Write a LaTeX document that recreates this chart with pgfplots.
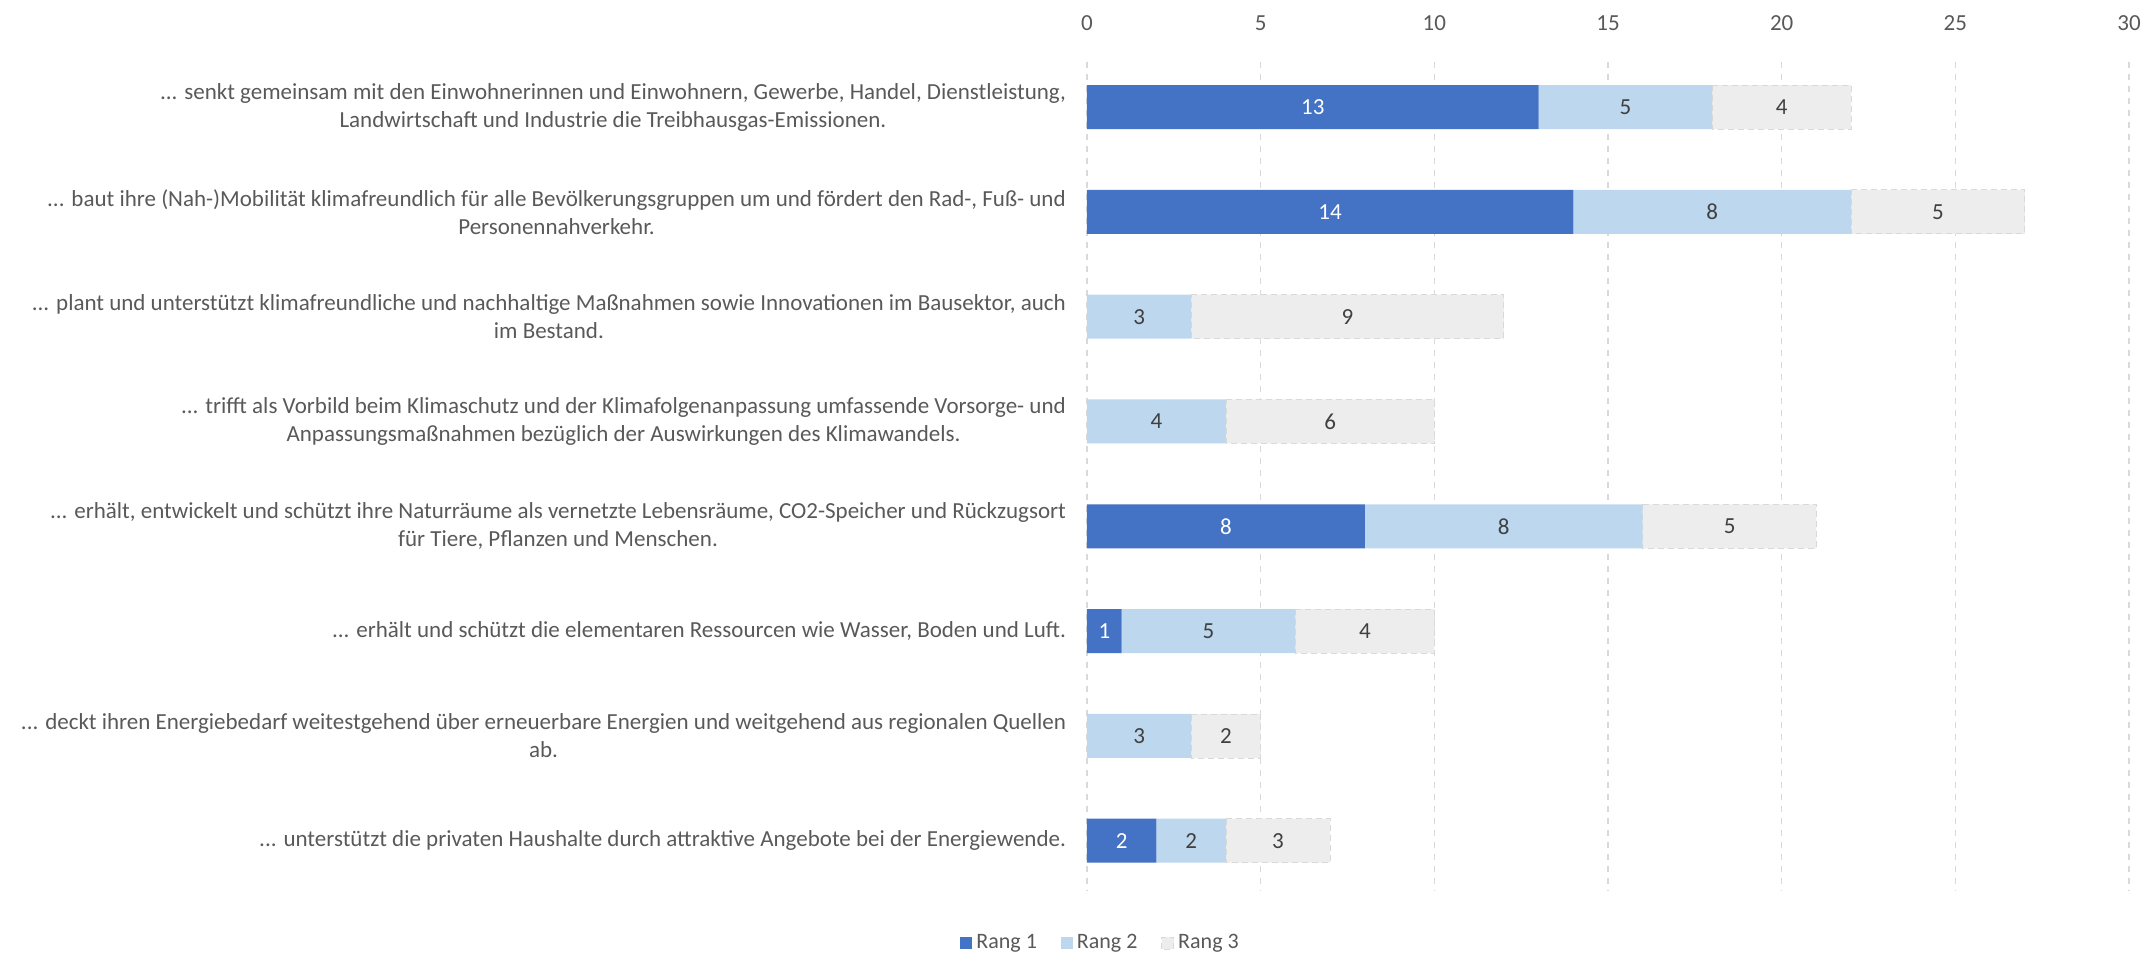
\documentclass[border=0pt]{standalone}
\usepackage{pgfplots}
\usepackage{pgfplotstable}
\pgfplotsset{compat=1.18}
\usepackage{fontspec}
\setmainfont{Carlito}

\definecolor{rang1}{HTML}{4472C4}
\definecolor{rang2}{HTML}{BDD7EE}
\definecolor{rang3}{HTML}{EDEDED}
\definecolor{txt}{HTML}{595959}
\definecolor{val}{HTML}{404040}
\definecolor{gridc}{HTML}{D9D9D9}
\newcommand{\dd}{.\kern0pt.\kern0pt.}

\pgfplotstableread{
y r1 r2 r3
0 13 5 4
1 14 8 5
2 0 3 9
3 0 4 6
4 8 8 5
5 1 5 4
6 0 3 2
7 2 2 3
}\ranks

\pgfplotsset{common/.style={
  width=521pt, height=414.5pt, scale only axis,
  xmin=0, xmax=30, ymin=-0.43, ymax=7.48, y dir=reverse,
  /pgf/number format/assume math mode=true}}

\begin{document}
\begin{tikzpicture}
\begin{axis}[name=ax, common,
  xbar stacked, bar width=0.42,
  xtick={0,5,10,15,20,25,30}, xticklabel pos=top,
  ytick={0,1,2,3,4,5,6,7},
  yticklabels={
    {\dd{} senkt gemeinsam mit den Einwohnerinnen und Einwohnern, Gewerbe, Handel, Dienstleistung,\\Landwirtschaft und Industrie die Treibhausgas-Emissionen.},
    {\dd{} baut ihre (Nah-)Mobilität klimafreundlich für alle Bevölkerungsgruppen um und fördert den Rad-, Fuß- und\\Personennahverkehr.},
    {\dd{} plant und unterstützt klimafreundliche und nachhaltige Maßnahmen sowie Innovationen im Bausektor, auch\\im Bestand.},
    {\dd{} trifft als Vorbild beim Klimaschutz und der Klimafolgenanpassung umfassende Vorsorge- und\\Anpassungsmaßnahmen bezüglich der Auswirkungen des Klimawandels.},
    {\dd{} erhält, entwickelt und schützt ihre Naturräume als vernetzte Lebensräume, CO2-Speicher und Rückzugsort\\für Tiere, Pflanzen und Menschen.},
    {\dd{} erhält und schützt die elementaren Ressourcen wie Wasser, Boden und Luft.},
    {\dd{} deckt ihren Energiebedarf weitestgehend über erneuerbare Energien und weitgehend aus regionalen Quellen\\ab.},
    {\dd{} unterstützt die privaten Haushalte durch attraktive Angebote bei der Energiewende.}},
  yticklabel style={align=center, font=\fontsize{11.5}{14}\selectfont, text=txt, xshift=-7pt},
  xticklabel style={font=\fontsize{11.5}{14}\selectfont, text=txt, yshift=12pt},
  axis line style={draw=none}, major tick length=0pt,
  xmajorgrids, grid style={gridc, dashed, line width=0.6pt},
  legend style={at={(0.014,-0.063)}, anchor=center, draw=none, legend columns=-1,
    font=\fontsize{11}{12}\selectfont, text=txt,
    /tikz/every even column/.append style={column sep=10pt}},
  legend image code/.code={\fill[#1] (0pt,-3pt) rectangle (6pt,3pt);},
]
\addplot[fill=rang1, draw=none] table[x=r1, y=y] {\ranks};
\addplot[fill=rang2, draw=none] table[x=r2, y=y] {\ranks};
\addplot[fill=rang3, draw=gridc, densely dashed, line width=0.4pt] table[x=r3, y=y] {\ranks};
\legend{Rang 1, Rang 2, Rang 3}
\end{axis}
\begin{axis}[common, at={(ax.south west)}, anchor=south west, hide axis,
  nodes near coords={\pgfmathfloatifflags{\pgfplotspointmeta}{0}{}{\pgfmathprintnumber{\pgfplotspointmeta}}},
  every node near coord/.append style={anchor=center, font=\fontsize{11.5}{14}\selectfont},
  point meta=explicit]
\addplot[draw=none, nodes near coords style={text=white}]
  table[x expr=\thisrow{r1}/2, y=y, meta=r1] {\ranks};
\addplot[draw=none, nodes near coords style={text=val}]
  table[x expr=\thisrow{r1}+\thisrow{r2}/2, y=y, meta=r2] {\ranks};
\addplot[draw=none, nodes near coords style={text=val}]
  table[x expr=\thisrow{r1}+\thisrow{r2}+\thisrow{r3}/2, y=y, meta=r3] {\ranks};
\end{axis}
\pgfresetboundingbox
\path[use as bounding box] ([xshift=-543.5pt,yshift=31pt]ax.north west) rectangle ([xshift=10.5pt,yshift=-30.5pt]ax.south east);
\end{tikzpicture}
\end{document}
